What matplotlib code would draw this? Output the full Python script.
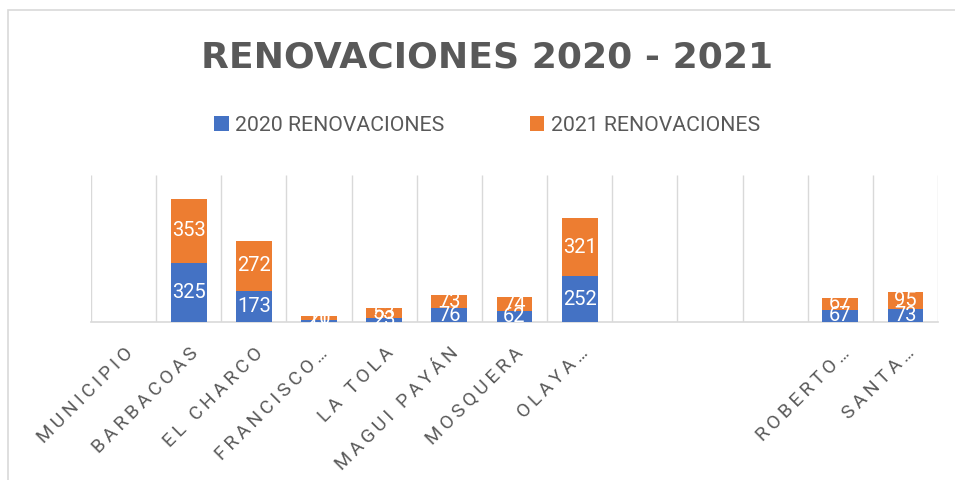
import numpy as np
import matplotlib.pyplot as plt
from matplotlib.patches import Rectangle

municipios = ["MUNICIPIO", "BARBACOAS", "EL CHARCO", "FRANCISCO…", "LA TOLA",
              "MAGUI PAYÁN", "MOSQUERA", "OLAYA…", "", "", "", "ROBERTO…", "SANTA…"]
ren_2020 = [0, 325, 173, 11, 23, 76, 62, 252, 0, 0, 0, 67, 73]
ren_2021 = [0, 353, 272, 20, 53, 73, 74, 321, 0, 0, 0, 67, 95]

blue = "#4472c4"
orange = "#ed7d31"
gray_txt = "#595959"
grid_col = "#d9d9d9"
fam = ["Roboto", "DejaVu Sans"]


def spaced(s):
    # excel draws these labels with extra letter spacing
    return "\u2009".join(s)


fig = plt.figure(figsize=(9.55, 4.8), dpi=100)
fig.patches.append(Rectangle((8/955, -0.1), 1.2, 1 - 10/480 + 0.1, transform=fig.transFigure,
                             fill=False, edgecolor=grid_col, linewidth=1.2))
ax = fig.add_axes([91/955, 1 - 322/480, (938 - 91)/955, (322 - 175)/480])

x = np.arange(len(municipios))
w = 0.55
b1 = ax.bar(x, ren_2020, w, color=blue, label="2020 RENOVACIONES", zorder=3)
b2 = ax.bar(x, ren_2021, w, bottom=ren_2020, color=orange, label="2021 RENOVACIONES", zorder=3)

for bars, vals, base in [(b1, ren_2020, [0]*len(x)), (b2, ren_2021, ren_2020)]:
    for rect, v, b in zip(bars, vals, base):
        if v == 0:
            continue
        ax.text(rect.get_x() + rect.get_width()/2, b + v/2, str(v), ha="center", va="center",
                color="white", fontsize=14.5, family=fam, zorder=4)

ax.set_xlim(-0.5, len(x) - 0.5)
ax.set_ylim(0, 810)
ax.vlines(np.arange(len(x) + 1) - 0.5, 0, 810, color=grid_col, linewidth=1, zorder=1)
for s in ["top", "left", "right"]:
    ax.spines[s].set_visible(False)
ax.spines["bottom"].set_color(grid_col)
ax.spines["bottom"].set_linewidth(1.2)
ax.set_yticks([])
ax.set_xticks(x)
ax.set_xticklabels([spaced(m) for m in municipios], rotation=45, ha="right",
                   rotation_mode="anchor", fontsize=13.8, color=gray_txt, family=fam)
ax.tick_params(axis="x", length=0, pad=16)

fig.text(0.51, 1 - 57/480, "RENOVACIONES 2020 - 2021", ha="center", va="center",
         fontsize=26, fontweight="bold", color=gray_txt, family="DejaVu Sans")
leg = fig.legend(loc="center", bbox_to_anchor=(0.51, 1 - 125/480), ncol=2, frameon=False,
                 prop={"family": fam, "size": 15.3}, handlelength=0.7, handleheight=0.7,
                 handletextpad=0.3, columnspacing=4.0, labelcolor=gray_txt)

fig.savefig("out.png", dpi=100)
